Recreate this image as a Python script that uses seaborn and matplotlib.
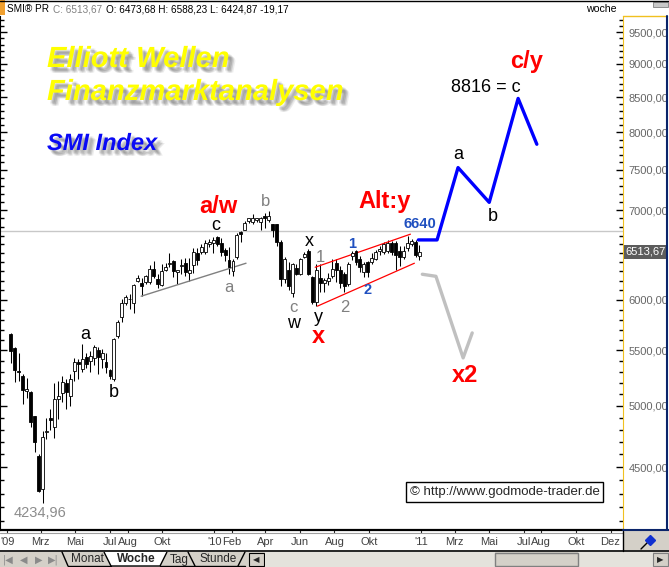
import numpy as np
import pandas as pd
import matplotlib
matplotlib.use("Agg")
import matplotlib.pyplot as plt
import matplotlib.dates as mdates
import matplotlib.patheffects as pe
import matplotlib.ticker as mticker
from matplotlib.patches import Rectangle, Polygon
from matplotlib.lines import Line2D
from matplotlib.transforms import blended_transform_factory
import seaborn as sns

sns.set_style("white")
plt.rcParams["font.family"] = ["Liberation Sans", "DejaVu Sans"]

# weekly SMI candles, Jan 2009 - Jan 2011
weeks = pd.date_range("2009-01-07", periods=104, freq="7D")
opens = [5662, 5520, 5310, 5265, 5130, 5120, 4910, 4590, 4335, 4780, 4900, 4820, 5060,
         5115, 5200, 5085, 5305, 5390, 5324, 5435, 5400, 5425, 5500, 5416, 5390, 5315,
         5234, 5635, 5821, 5972, 6003, 5962, 6200, 6180, 6190, 6190, 6330, 6213, 6150,
         6320, 6380, 6410, 6290, 6360, 6395, 6280, 6365, 6500, 6510, 6510, 6600, 6620,
         6680, 6620, 6540, 6420, 6300, 6460, 6740, 6770, 6870, 6860, 6880, 6860, 6930,
         6880, 6830, 6830, 6630, 6213, 6320, 6075, 6340, 6270, 6460, 6530, 6235, 5980,
         6225, 6180, 6200, 6245, 6395, 6320, 6270, 6160, 6470, 6520, 6430, 6290, 6400,
         6400, 6440, 6520, 6510, 6520, 6610, 6620, 6520, 6460, 6560, 6600, 6630, 6473.68]
highs = [5670, 5530, 5480, 5285, 5245, 5130, 4915, 4600, 4790, 4900, 4970, 5200, 5215,
         5260, 5234, 5280, 5425, 5416, 5560, 5480, 5490, 5550, 5530, 5510, 5480, 5324,
         5620, 5800, 6003, 6050, 6060, 6160, 6260, 6224, 6260, 6370, 6410, 6270, 6375,
         6390, 6500, 6420, 6320, 6430, 6450, 6450, 6560, 6560, 6600, 6650, 6660, 6680,
         6700, 6670, 6560, 6570, 6430, 6730, 6750, 6870, 6910, 6950, 6910, 6920, 6960,
         6990, 6840, 6840, 6650, 6460, 6400, 6390, 6380, 6450, 6510, 6550, 6245, 6375,
         6375, 6230, 6280, 6430, 6440, 6360, 6290, 6400, 6520, 6540, 6470, 6400, 6410,
         6500, 6540, 6580, 6630, 6650, 6640, 6640, 6580, 6580, 6700, 6660, 6650, 6588.23]
lows = [5380, 5210, 5220, 5015, 5065, 4820, 4620, 4310, 4234.96, 4720, 4800, 4735, 4890,
        5030, 4970, 5000, 5215, 5234, 5300, 5340, 5300, 5360, 5280, 5340, 5290, 5240,
        5215, 5620, 5771, 5950, 5901, 5870, 6190, 6040, 6170, 6170, 6230, 6120, 6140,
        6300, 6345, 6235, 6170, 6270, 6245, 6200, 6280, 6370, 6490, 6490, 6570, 6500,
        6580, 6470, 6410, 6270, 6245, 6430, 6630, 6760, 6850, 6830, 6860, 6770, 6790,
        6860, 6680, 6580, 6140, 6180, 6100, 6030, 6260, 6260, 6450, 6260, 5960, 5935,
        6085, 6080, 6150, 6230, 6190, 6120, 6085, 6140, 6420, 6370, 6290, 6240, 6235,
        6380, 6420, 6480, 6490, 6500, 6480, 6320, 6360, 6440, 6520, 6580, 6460, 6424.87]
closes = [5491, 5315, 5300, 5140, 5145, 4860, 4700, 4320, 4738, 4790, 4880, 5057, 5085,
          5207, 5125, 5234, 5390, 5370, 5416, 5370, 5450, 5530, 5440, 5480, 5350, 5260,
          5605, 5771, 5962, 6033, 6010, 6150, 6225, 6140, 6245, 6330, 6245, 6160, 6300,
          6345, 6395, 6300, 6310, 6370, 6290, 6320, 6510, 6420, 6575, 6620, 6630, 6650,
          6600, 6510, 6480, 6345, 6410, 6710, 6720, 6850, 6900, 6900, 6900, 6910, 6900,
          6930, 6770, 6630, 6213, 6440, 6140, 6375, 6270, 6430, 6490, 6270, 5980, 6320,
          6180, 6210, 6230, 6330, 6320, 6180, 6140, 6375, 6500, 6400, 6350, 6375, 6290,
          6450, 6510, 6550, 6600, 6610, 6510, 6480, 6460, 6530, 6620, 6640, 6480, 6513.67]

# projected paths and trend lines
main_dates = ["2010-12-27", "2011-01-29", "2011-03-07", "2011-05-01", "2011-06-21", "2011-07-24"]
main_prices = [6650, 6650, 7530, 7093, 8480, 7838]
alt_dates = ["2011-01-03", "2011-01-27", "2011-03-16", "2011-04-01"]
alt_prices = [6269, 6247, 5430, 5668]
support_dates = ["2009-08-25", "2010-02-26"]
support_prices = [6037, 6389]
upper_dates = ["2010-06-28", "2010-12-13"]
upper_prices = [6345, 6716]
lower_dates = ["2010-07-02", "2010-12-20"]
lower_prices = [5935, 6389]
ref_level = 6750
last_close = 6513.67
price_labels = [4500, 5000, 5500, 6000, 7000, 7500, 8000, 8500, 9000, 9500]

# wave labels: text, date, price (baseline), style
labels = [
    ("a", "2009-05-18", 5606, "black"), ("b", "2009-07-07", 5074, "black"),
    ("4234,96", "2009-02-28", 4129, "low"),
    ("a/w", "2010-01-08", 6960, "red"), ("c", "2010-01-04", 6770, "black"),
    ("b", "2010-04-01", 7045, "gray"), ("a", "2010-01-27", 6077, "gray"),
    ("c", "2010-05-20", 5872, "gray"), ("w", "2010-05-20", 5713, "black"),
    ("x", "2010-06-17", 6577, "black"), ("1", "2010-07-07", 6398, "gray"),
    ("y", "2010-07-03", 5772, "black"), ("x", "2010-07-03", 5567, "red"),
    ("2", "2010-08-20", 5872, "gray"), ("1", "2010-09-01", 6555, "blue"),
    ("2", "2010-09-29", 6056, "blue"), ("Alt:y", "2010-10-29", 7021, "red"),
    ("6640", "2010-12-30", 6783, "blue"), ("a", "2011-03-07", 7637, "black"),
    ("b", "2011-05-08", 6866, "black"), ("8816 = c", "2011-04-25", 8569, "black"),
    ("c/y", "2011-07-05", 8929, "red"), ("x2", "2011-03-20", 5207, "red"),
]
styles = {
    "black": dict(fontsize=13, color="black"),
    "gray": dict(fontsize=12, color="#808080"),
    "low": dict(fontsize=10.5, color="#8c8c8c"),
    "red": dict(fontsize=17, color="#ff0000", fontweight="bold"),
    "blue": dict(fontsize=10.5, color="#2050c0", fontweight="bold"),
}

tick_dates = ["2009-01-01", "2009-03-01", "2009-05-01", "2009-07-01", "2009-08-01",
              "2009-10-01", "2010-01-01", "2010-02-01", "2010-04-01", "2010-06-01",
              "2010-08-01", "2010-10-01", "2011-01-01", "2011-03-01", "2011-05-01",
              "2011-07-01", "2011-08-01", "2011-10-01", "2011-12-01"]
tick_labels = ["'09", "Mrz", "Mai", "Jul", "Aug", "Okt", "'10", "Feb", "Apr", "Jun",
               "Aug", "Okt", "'11", "Mrz", "Mai", "Jul", "Aug", "Okt", "Dez"]

W, H = 669, 567


def fx(x):
    return x / W


def fy(y):
    return 1 - y / H


def dn(dates):
    return mdates.date2num(pd.to_datetime(dates))


def main():
    fig = plt.figure(figsize=(W / 100, H / 100), dpi=100)
    ax = fig.add_axes([0, 37 / H, 623 / W, 514 / H])

    # candles
    x = dn(weeks)
    o, h, l, c = map(np.array, (opens, highs, lows, closes))
    up = c >= o
    lo = np.minimum(o, c)
    hgt = np.maximum(np.abs(c - o), 4)
    ax.vlines(x, l, h, color="black", lw=0.75, zorder=2)
    ax.bar(x[up], hgt[up], bottom=lo[up], width=5.2, color="white",
           edgecolor="black", lw=0.6, zorder=3)
    ax.bar(x[~up], hgt[~up], bottom=lo[~up], width=5.2, color="black",
           edgecolor="black", lw=0.6, zorder=3)

    ax.axhline(ref_level, color="#c8c8c8", lw=1, zorder=1)
    sns.lineplot(x=dn(support_dates), y=support_prices, color="#808080", lw=1, ax=ax)
    sns.lineplot(x=dn(upper_dates), y=upper_prices, color="#ff0000", lw=0.9, ax=ax)
    sns.lineplot(x=dn(lower_dates), y=lower_prices, color="#ff0000", lw=0.9, ax=ax)
    sns.lineplot(x=dn(main_dates), y=main_prices, sort=False, estimator=None,
                 color="#0000ff", lw=2.4, ax=ax)
    sns.lineplot(x=dn(alt_dates), y=alt_prices, sort=False, estimator=None,
                 color="#c0c0c0", lw=2.4, ax=ax)

    for txt, d, p, st in labels:
        ax.text(dn([d])[0], p, txt, ha="center", va="baseline", zorder=6, **styles[st])

    # axes
    ax.set_yscale("log")
    ax.set_ylim(4040, 9770)
    ax.set_xlim(dn(["2008-12-19"])[0], dn(["2011-12-23"])[0])
    ax.yaxis.set_major_locator(mticker.FixedLocator(price_labels))
    ax.yaxis.set_minor_locator(mticker.FixedLocator(np.arange(4100, 9701, 100)))
    ax.yaxis.set_major_formatter(mticker.FuncFormatter(
        lambda v, p: f"{v:.2f}".replace(".", ",")))
    ax.yaxis.set_minor_formatter(mticker.NullFormatter())
    ax.tick_params(axis="y", which="both", direction="in", left=True, right=True,
                   labelleft=False, labelright=True, color="black", width=1,
                   labelcolor="#666666", labelsize=8, pad=4)
    ax.tick_params(axis="y", which="major", length=5)
    ax.tick_params(axis="y", which="minor", length=3)
    ax.set_xticks(dn(tick_dates))
    ax.set_xticklabels(tick_labels)
    ax.tick_params(axis="x", direction="out", length=2, labelsize=8,
                   labelcolor="#404040", pad=3, bottom=True)
    ax.set_xlabel("")
    ax.set_ylabel("")
    ax.spines["top"].set_visible(False)
    ax.spines["right"].set_color("#f0c020")
    ax.spines["left"].set_color("black")
    ax.spines["bottom"].set_color("black")
    ax.spines["bottom"].set_linewidth(1.6)
    ax.grid(False)

    # last price box
    tr = blended_transform_factory(ax.transAxes, ax.transData)
    ax.text(1.004, last_close, f"{last_close:.2f}".replace(".", ","), transform=tr,
            color="white", fontsize=8, ha="left", va="center", clip_on=False, zorder=10,
            bbox=dict(boxstyle="square,pad=0.15", fc="#5c5c5c", ec="none"))

    # headline texts with soft shadow
    shadow = [pe.SimplePatchShadow(offset=(dx, dy), shadow_rgbFace="#6e6e6e", alpha=0.12)
              for dx, dy in [(2, -2), (3, -3), (4, -4), (3, -2), (2, -3), (4, -3), (3, -4), (5, -4)]]
    shadow.append(pe.Normal())
    ax.text(47 / 623, 463 / 514, "Elliott Wellen", transform=ax.transAxes, fontsize=21,
            fontweight="bold", fontstyle="italic", color="#ffff00", va="baseline",
            path_effects=shadow, zorder=7)
    ax.text(47 / 623, 430 / 514, "Finanzmarktanalysen", transform=ax.transAxes, fontsize=21,
            fontweight="bold", fontstyle="italic", color="#ffff00", va="baseline",
            path_effects=shadow, zorder=7)
    ax.text(47 / 623, 380 / 514, "SMI Index", transform=ax.transAxes, fontsize=17,
            fontweight="bold", fontstyle="italic", color="#0a0af5", va="baseline",
            path_effects=shadow, zorder=7)

    ax.text(504.5 / 623, 38 / 514, "\u00a9 http://www.godmode-trader.de", transform=ax.transAxes,
            fontsize=9.5, ha="center", va="center", zorder=8,
            bbox=dict(boxstyle="square,pad=0.3", fc="white", ec="black", lw=1))

    # window chrome
    def rect(x0, y0, x1, y1, **kw):
        fig.add_artist(Rectangle((fx(x0), fy(y1)), (x1 - x0) / W, (y1 - y0) / H,
                                 transform=fig.transFigure, **kw))

    def line(x0, y0, x1, y1, **kw):
        fig.add_artist(Line2D([fx(x0), fx(x1)], [fy(y0), fy(y1)],
                              transform=fig.transFigure, **kw))

    line(0, 0.5, W, 0.5, color="black", lw=1)
    rect(0, 0, 5, 15, fc="#f0a030", ec="none")
    fig.text(fx(7), fy(12), "SMI\u00ae PR", fontsize=7.2, color="black")
    fig.text(fx(53), fy(12), "C: 6513,67", fontsize=7.2, color="#808080")
    fig.text(fx(106), fy(12), "O: 6473,68 H: 6588,23 L: 6424,87 -19,17", fontsize=7.2,
             color="black")
    fig.text(fx(586), fy(12), "woche", fontsize=7.6, color="black")
    rect(653, 2, 668, 7, fc="#c8c8c8", ec="#808080", lw=0.6)

    line(623, 16, 667, 16, color="#f0c020", lw=1)
    line(667, 16, 667, 530, color="#0a246a", lw=1.5)
    line(623, 530, 669, 530, color="#0a246a", lw=1.5)

    line(0, 533, 623, 533, color="#a0a0a0", lw=0.8)
    line(0, 551, W, 551, color="black", lw=1.2)
    line(623, 531, 623, 551, color="black", lw=1)
    rect(624, 531, 669, 550, fc="#d4d0c8", ec="none")
    line(641, 549, 648, 542, color="black", lw=1)
    fig.add_artist(Line2D([fx(650)], [fy(540)], marker="D", ms=5, color="#1030d0",
                          transform=fig.transFigure))

    rect(0, 552, W, H, fc="#d4d0c8", ec="none")
    for xc, s in [(8, "|\u25c0"), (24, "\u25c0"), (39, "\u25b6"), (53, "\u25b6|")]:
        fig.text(fx(xc), fy(559.5), s, fontsize=7, color="#8a8a8a", ha="center",
                 va="center", family="DejaVu Sans")
    fig.add_artist(Polygon([(fx(104), fy(552)), (fx(111), fy(566)), (fx(160), fy(566)),
                            (fx(167), fy(552))], closed=False, fc="white", ec="black",
                           lw=1, transform=fig.transFigure))
    line(62, 552, 68, 566, color="black", lw=1)
    line(68, 566, 111, 566, color="black", lw=1)
    line(160, 566, 245, 566, color="black", lw=1)
    line(188, 552, 195, 566, color="black", lw=1)
    line(238, 566, 245, 552, color="black", lw=1)
    fig.text(fx(87), fy(559.5), "Monat", fontsize=8.5, ha="center", va="center")
    fig.text(fx(136), fy(559.5), "Woche", fontsize=8.5, ha="center", va="center",
             fontweight="bold")
    fig.text(fx(179), fy(559.5), "Tag", fontsize=8.5, ha="center", va="center")
    fig.text(fx(218), fy(559.5), "Stunde", fontsize=8.5, ha="center", va="center")
    rect(249, 553, 264, 566, fc="#d4d0c8", ec="black", lw=0.8)
    fig.text(fx(256.5), fy(559.5), "\u25c0", fontsize=6, ha="center", va="center",
             family="DejaVu Sans")
    rect(265, 552, 495, 567, fc="#e4e2dc", ec="none")
    rect(578, 552, 653, 567, fc="#e4e2dc", ec="none")
    rect(495, 553, 578, 566, fc="#d4d0c8", ec="#808080", lw=1)
    rect(653, 553, 668, 566, fc="#d4d0c8", ec="#808080", lw=0.8)
    fig.text(fx(660.5), fy(559.5), "\u25b6", fontsize=6, ha="center", va="center",
             family="DejaVu Sans")

    fig.savefig("out.png", dpi=100)


main()
